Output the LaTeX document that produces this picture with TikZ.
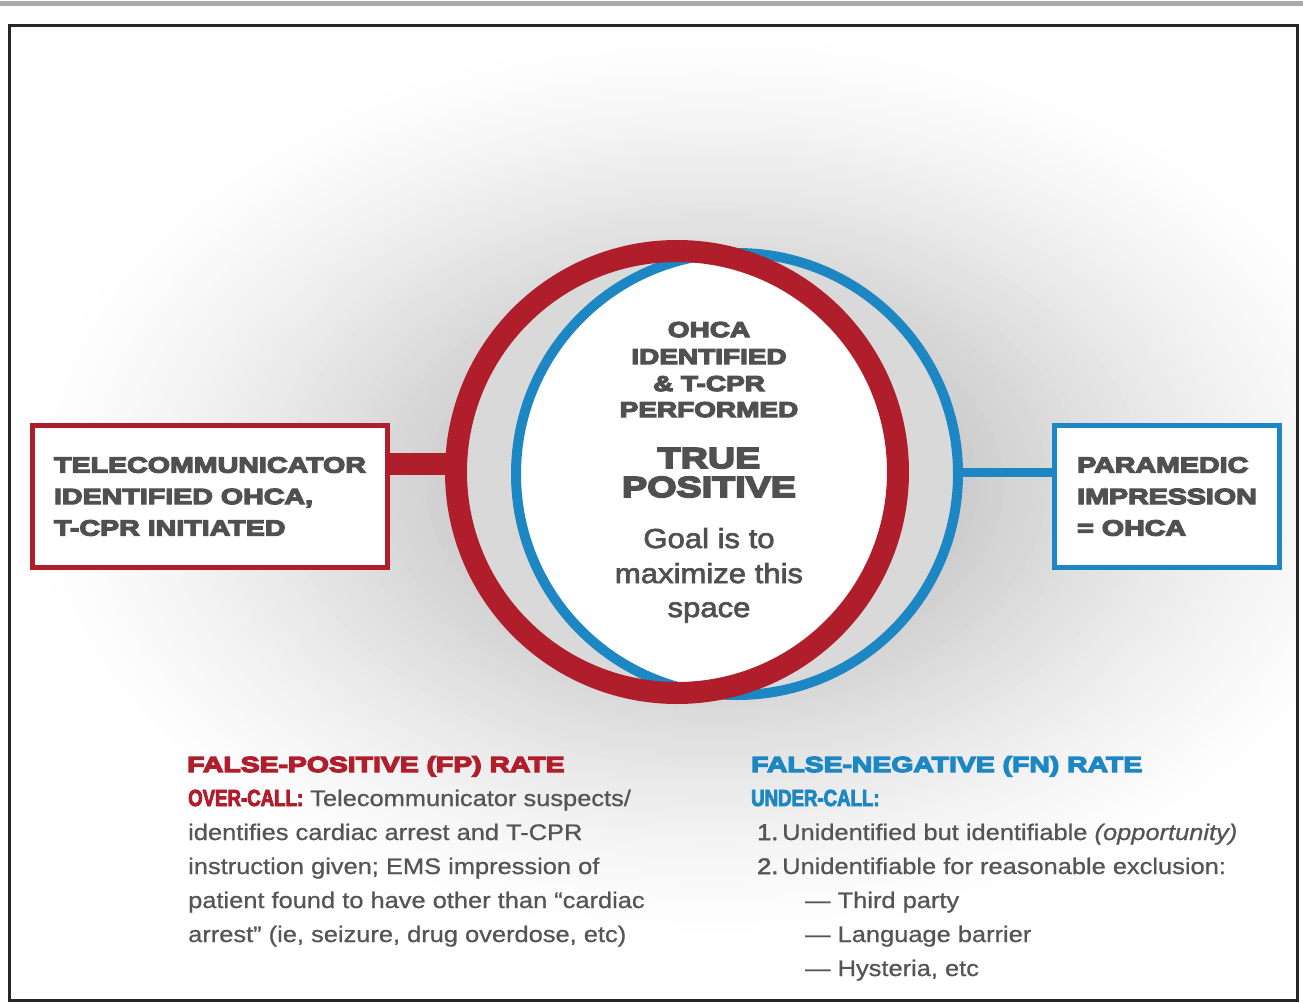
\documentclass[tikz,border=0pt]{standalone}
\usepackage{fontspec}
\setmainfont[FakeStretch=1.13,FakeBold=0.8]{Liberation Sans}
\newfontfamily\heavy[FakeStretch=1.3,FakeBold=6]{Liberation Sans}
\newfontfamily\medfont[FakeStretch=1.13,FakeBold=2.5]{Liberation Sans}
\newfontfamily\condfont[FakeStretch=0.8,FakeBold=3.5]{Liberation Sans}
\newcommand\fsz[2]{\fontsize{#1}{#2}\selectfont}

\definecolor{ringred}{HTML}{B01E2C}
\definecolor{ringblue}{HTML}{1D87C4}
\definecolor{darktxt}{HTML}{505050}
\definecolor{bodytxt}{HTML}{555555}
\definecolor{framec}{HTML}{262626}
\definecolor{topbar}{HTML}{A9A9A9}
\definecolor{crescent}{HTML}{D9D9D9}

\tikzset{
  ring/.style={circle, minimum size=442pt, inner sep=0pt, outer sep=0pt},
  boxnode/.style={rectangle, line width=5pt, fill=white, minimum width=355pt,
    minimum height=142pt, inner sep=0pt, align=left,
    font=\heavy\bfseries\fsz{22}{31.5}, text=darktxt},
  ctitle/.style={anchor=base, inner sep=0pt, font=\heavy\bfseries\fsz{21.5}{26}, text=darktxt},
  cbig/.style={anchor=base, inner sep=0pt, font=\heavy\bfseries\fsz{29}{29}, text=darktxt},
  cgoal/.style={anchor=base, inner sep=0pt, font=\medfont\fsz{27.5}{35}, text=darktxt},
  heading/.style={anchor=base west, inner sep=0pt, font=\heavy\bfseries\fsz{21.8}{26}},
  body/.style={anchor=base west, inner sep=0pt, font=\fsz{22.5}{34}, text=bodytxt},
  callred/.style={font=\condfont\bfseries\fsz{23.3}{34}, text=ringred},
  callblue/.style={font=\condfont\bfseries\fsz{23.3}{34}, text=ringblue},
}

\begin{document}
\begin{tikzpicture}[x=1pt, y=-1pt]
  \useasboundingbox (0,0) rectangle (1303,1003);
  \fill[white] (0,0) rectangle (1303,1003);

  % top rule
  \fill[topbar] (0,1) rectangle (1303,6.5);

  % soft grey halo behind the rings, built from nested ellipses
  \begin{scope}
    \clip (9.5,25.5) rectangle (1297.5,1000.5);
    \foreach \k in {0,...,55}{
      \pgfmathsetmacro\r{1-\k*0.0125}
      \pgfmathsetmacro\d{36*(1-\r)^1.35}
      \fill[black!\d!white] (715,485) ellipse [x radius={700*\r}, y radius={460*\r}];
    }
  \end{scope}
  \draw[line width=2.5pt, framec] (9.5,25.5) rectangle (1297.5,1000.5);

  % ring interiors: grey crescents, white overlap
  \fill[crescent] (677,472) circle (221pt);
  \fill[crescent] (737,474) circle (221pt);
  \begin{scope}
    \clip (677,472) circle (221pt);
    \fill[white] (737,474) circle (221pt);
  \end{scope}

  % the two rings
  \node[ring, draw=ringblue, line width=10pt] (bluec) at (737,474) {};
  \node[ring, draw=ringred, line width=22pt] (redc) at (677,472) {};

  % side boxes
  \node[boxnode, draw=ringred] (lbox) at (210,496.5)
    {TELECOMMUNICATOR\\IDENTIFIED OHCA,\\T-CPR INITIATED};
  \node[boxnode, draw=ringblue, minimum width=225pt] (rbox) at (1167,496.5)
    {PARAMEDIC\\IMPRESSION\\= OHCA};

  % connectors from the boxes to the rings
  \draw[ringred, line width=22pt] ([yshift=32.5pt]lbox.east) -- ([yshift=32.5pt]lbox.east -| redc.west);
  \draw[ringblue, line width=9pt] ([yshift=24.5pt]rbox.west) -- ([yshift=24.5pt]rbox.west -| bluec.east);

  % centre text
  \node[ctitle] (ct1) at (709,337) {OHCA};
  \node[ctitle] (ct2) at (709,364) {IDENTIFIED};
  \node[ctitle] (ct3) at (709,391) {\& T-CPR};
  \node[ctitle] (ct4) at (709,417) {PERFORMED};
  \node[cbig] (tp1) at (709,468) {TRUE};
  \node[cbig] (tp2) at (709,497) {POSITIVE};
  \node[cgoal] (g1) at (709,548) {Goal is to};
  \node[cgoal] (g2) at (709,583) {maximize this};
  \node[cgoal] (g3) at (709,617) {space};

  % false-positive block
  \node[heading, text=ringred] (fph) at (187,772) {FALSE-POSITIVE (FP) RATE};
  \node[body] (fp1) at (188,806) {{\condfont\bfseries\fsz{23.3}{34}\color{ringred}OVER-CALL:} Telecommunicator suspects/};
  \node[body] (fp2) at (188,840) {identifies cardiac arrest and T-CPR};
  \node[body] (fp3) at (188,874) {instruction given; EMS impression of};
  \node[body] (fp4) at (188,908) {patient found to have other than “cardiac};
  \node[body] (fp5) at (188,942) {arrest” (ie, seizure, drug overdose, etc)};

  % false-negative block
  \node[heading, text=ringblue] (fnh) at (751,772) {FALSE-NEGATIVE (FN) RATE};
  \node[body, callblue] (fn1) at (751,806) {UNDER-CALL:};
  \node[body] (fn2) at (757,840) {\makebox[25pt][l]{\medfont 1.}Unidentified but identifiable \textit{(opportunity)}};
  \node[body] (fn3) at (757,874) {\makebox[25pt][l]{\medfont 2.}Unidentifiable for reasonable exclusion:};
  \node[body] (fn4) at (805,908) {— Third party};
  \node[body] (fn5) at (805,942) {— Language barrier};
  \node[body] (fn6) at (805,976) {— Hysteria, etc};
\end{tikzpicture}
\end{document}
